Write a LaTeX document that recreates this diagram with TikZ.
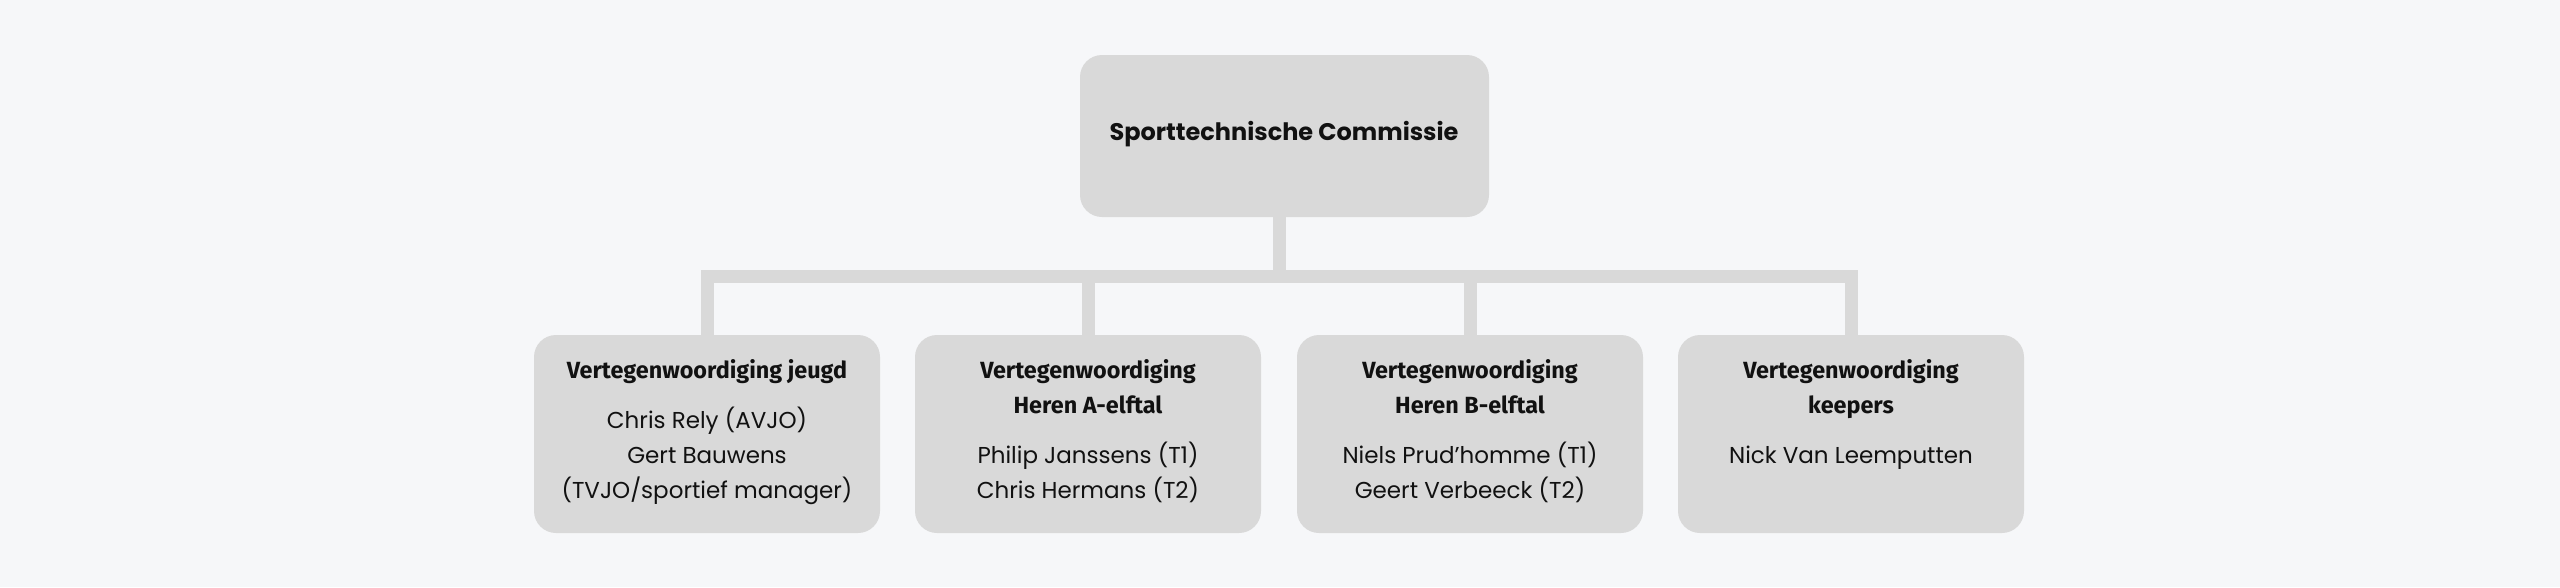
\documentclass[tikz,border=0pt]{standalone}
\usepackage{fontspec}
\setmainfont{Poppins}
\newfontfamily\headfam{Fira Sans}
\newfontfamily\bodyfam{Poppins}
\definecolor{bgc}{HTML}{F6F7F9}
\definecolor{boxc}{HTML}{D9D9D9}
\definecolor{txtc}{HTML}{111111}
\begin{document}
\begin{tikzpicture}[x=1pt,y=-1pt,
  boxshape/.style={fill=boxc, draw=none, rounded corners=22pt, inner sep=0pt, minimum width=346pt, minimum height=198pt},
  topshape/.style={fill=boxc, draw=none, rounded corners=22pt, inner sep=0pt, minimum width=409pt, minimum height=162pt},
  conn/.style={draw=boxc, line width=13pt, line join=miter},
  titletxt/.style={inner sep=0pt, anchor=base, text=txtc, font=\bodyfam\bfseries\fontsize{24}{28}\selectfont},
  headtxt/.style={inner sep=0pt, anchor=base, text=txtc, font=\headfam\bfseries\fontsize{23.4}{28}\selectfont},
  bodytxt/.style={inner sep=0pt, anchor=base, text=txtc, font=\bodyfam\fontsize{23}{28}\selectfont}]
\fill[bgc] (0,0) rectangle (2560,587);
\useasboundingbox (0,0) rectangle (2560,587);
% boxes
\node[topshape] (top) at (1284.5,136) {};
\node[boxshape] (b1) at (707,434) {};
\node[boxshape] (b2) at (1088,434) {};
\node[boxshape] (b3) at (1470,434) {};
\node[boxshape] (b4) at (1851,434) {};
\coordinate (bar) at (0,276);
% connectors
\draw[conn] ([xshift=-5pt]top.south) -- ([xshift=-5pt]top.south |- bar);
\draw[conn] (b1.north) -- (b1.north |- bar) -- (b4.north |- bar) -- (b4.north);
\draw[conn] (b2.north) -- (b2.north |- bar);
\draw[conn] (b3.north) -- (b3.north |- bar);
% texts
\node[titletxt] (t0) at (1284,140) {Sporttechnische Commissie};
\node[headtxt] (h1) at (707,378) {Vertegenwoordiging jeugd};
\node[bodytxt] (p11) at (707,428) {Chris Rely (AVJO)};
\node[bodytxt] (p12) at (707,463) {Gert Bauwens};
\node[bodytxt] (p13) at (707,498) {(TVJO/sportief manager)};
\node[headtxt] (h2a) at (1088,378) {Vertegenwoordiging};
\node[headtxt] (h2b) at (1088,413) {Heren A-elftal};
\node[bodytxt] (p21) at (1088,463) {Philip Janssens (T1)};
\node[bodytxt] (p22) at (1088,498) {Chris Hermans (T2)};
\node[headtxt] (h3a) at (1470,378) {Vertegenwoordiging};
\node[headtxt] (h3b) at (1470,413) {Heren B-elftal};
\node[bodytxt] (p31) at (1470,463) {Niels Prud’homme (T1)};
\node[bodytxt] (p32) at (1470,498) {Geert Verbeeck (T2)};
\node[headtxt] (h4a) at (1851,378) {Vertegenwoordiging};
\node[headtxt] (h4b) at (1851,413) {keepers};
\node[bodytxt] (p41) at (1851,463) {Nick Van Leemputten};
\end{tikzpicture}
\end{document}
